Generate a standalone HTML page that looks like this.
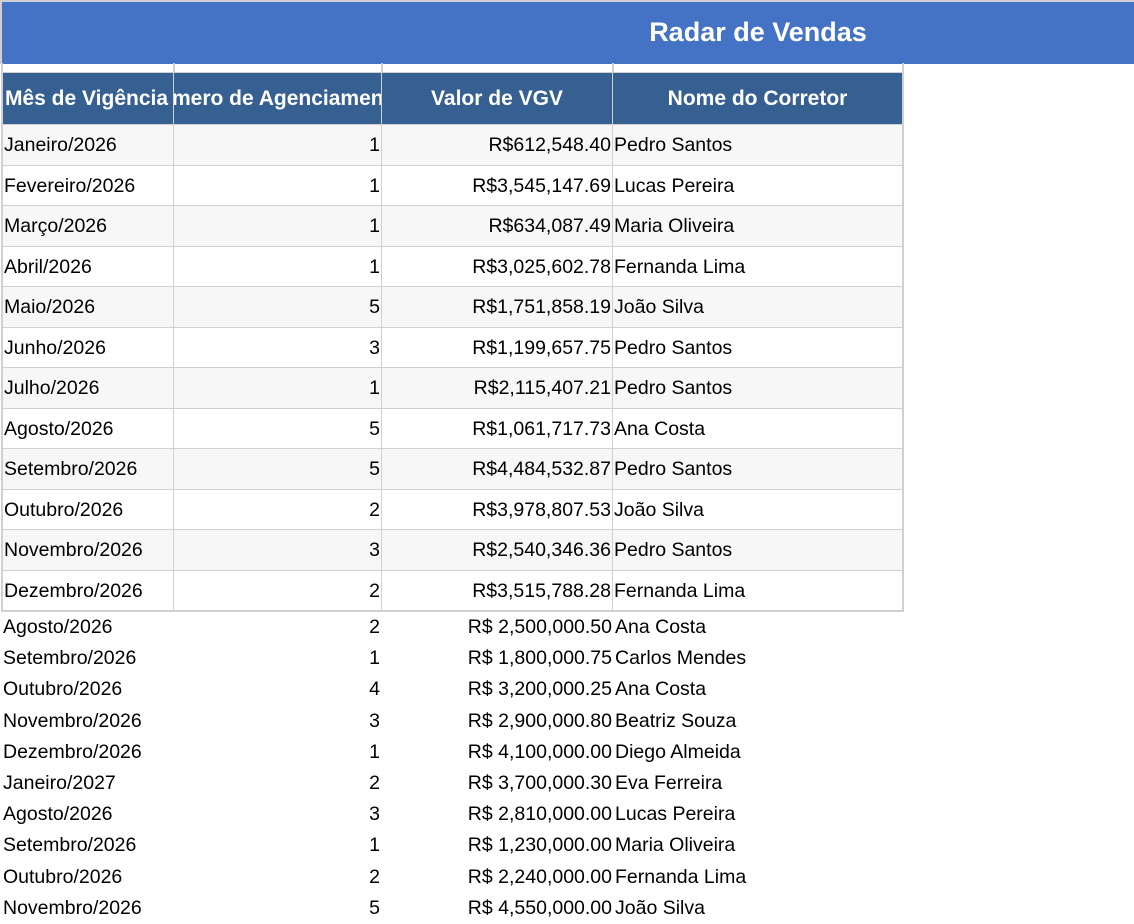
<!DOCTYPE html>
<html><head><meta charset="utf-8"><style>
body{margin:0;width:1134px;height:919px;background:#fff;position:relative;overflow:hidden;font-family:"Liberation Sans",sans-serif;font-size:19.5px;color:#000}
.a{position:absolute;box-sizing:border-box;white-space:nowrap;overflow:hidden}
.c{border-right:2px solid #d0d0d0;border-bottom:2px solid #d0d0d0}
.t{position:absolute;white-space:nowrap}
</style></head><body>
<div class="a" style="left:0;top:0;width:1134px;height:64px;background:#4472c4;border-top:2px solid #d0d0d0;border-left:2px solid #d0d0d0"></div>
<div class="t" style="left:0;width:1516px;top:17px;text-align:center;color:#fff;font-weight:bold;font-size:27px">Radar de Vendas</div>
<div id="g"></div>
<script>
var cols=[1,174,382,613,903];
var h='';
for(var i=0;i<4;i++)h+='<div class="a c" style="left:'+cols[i]+'px;top:63px;width:'+(cols[i+1]-cols[i]+1)+'px;height:11px;'+(i==0?'border-left:2px solid #d0d0d0':'')+'"></div>';
var hd=['Mês de Vigência','Número de Agenciamentos','Valor de VGV','Nome do Corretor'];
for(i=0;i<4;i++){h+='<div class="a c" style="left:'+cols[i]+'px;top:73px;width:'+(cols[i+1]-cols[i]+1)+'px;height:53px;background:#366092;color:#fff;font-weight:bold;font-size:21px;line-height:52px;'+(i==0?'border-left:2px solid #d0d0d0;padding-left:2px;':'text-align:center;')+'">'+(i==1?'<span style="display:inline-block;width:100%;text-align:center;margin-left:-30px;margin-right:-30px;width:268px">'+hd[i]+'</span>':hd[i])+'</div>';}
var d=[['Janeiro/2026',1,'R$612,548.40','Pedro Santos'],['Fevereiro/2026',1,'R$3,545,147.69','Lucas Pereira'],['Março/2026',1,'R$634,087.49','Maria Oliveira'],['Abril/2026',1,'R$3,025,602.78','Fernanda Lima'],['Maio/2026',5,'R$1,751,858.19','João Silva'],['Junho/2026',3,'R$1,199,657.75','Pedro Santos'],['Julho/2026',1,'R$2,115,407.21','Pedro Santos'],['Agosto/2026',5,'R$1,061,717.73','Ana Costa'],['Setembro/2026',5,'R$4,484,532.87','Pedro Santos'],['Outubro/2026',2,'R$3,978,807.53','João Silva'],['Novembro/2026',3,'R$2,540,346.36','Pedro Santos'],['Dezembro/2026',2,'R$3,515,788.28','Fernanda Lima']];
for(var r=0;r<12;r++){var y=125+r*40.5,bg=r%2==0?'#f7f7f7':'#fff';
for(i=0;i<4;i++){h+='<div class="a c" style="left:'+cols[i]+'px;top:'+y+'px;width:'+(cols[i+1]-cols[i]+1)+'px;height:41.5px;background:'+bg+';line-height:40px;'+(i==0?'border-left:2px solid #d0d0d0;padding-left:1px;':'')+(i==1||i==2?'text-align:right;padding-right:1px;':'')+(i==3?'padding-left:1px;':'')+'">'+d[r][i]+'</div>';}}
var e=[['Agosto/2026',2,'2,500,000.50','Ana Costa'],['Setembro/2026',1,'1,800,000.75','Carlos Mendes'],['Outubro/2026',4,'3,200,000.25','Ana Costa'],['Novembro/2026',3,'2,900,000.80','Beatriz Souza'],['Dezembro/2026',1,'4,100,000.00','Diego Almeida'],['Janeiro/2027',2,'3,700,000.30','Eva Ferreira'],['Agosto/2026',3,'2,810,000.00','Lucas Pereira'],['Setembro/2026',1,'1,230,000.00','Maria Oliveira'],['Outubro/2026',2,'2,240,000.00','Fernanda Lima'],['Novembro/2026',5,'4,550,000.00','João Silva']];
for(r=0;r<10;r++){var y=612+r*31.2;
h+='<div class="t" style="left:3px;top:'+y+'px;line-height:31px">'+e[r][0]+'</div>';
h+='<div class="t" style="left:174px;width:206px;text-align:right;top:'+y+'px;line-height:31px">'+e[r][1]+'</div>';
h+='<div class="t" style="left:382px;width:230px;text-align:right;top:'+y+'px;line-height:31px">R$ '+e[r][2]+'</div>';
h+='<div class="t" style="left:615px;top:'+y+'px;line-height:31px">'+e[r][3]+'</div>';}
document.getElementById('g').innerHTML=h;
</script>
</body></html>
